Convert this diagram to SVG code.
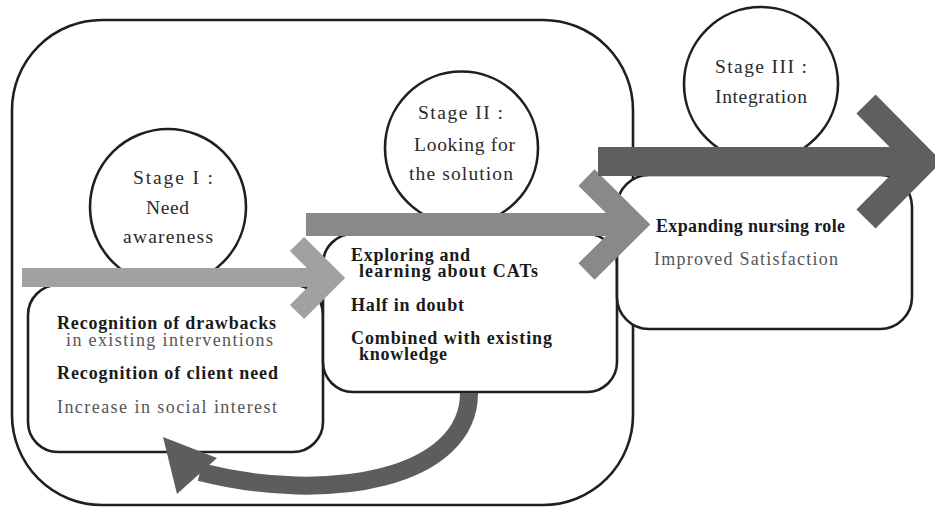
<svg xmlns="http://www.w3.org/2000/svg" width="935" height="507" viewBox="0 0 935 507">
<defs>
<style>
.frame{fill:#fff;stroke:#1f1f1f;stroke-width:2.6}
.txt{font-family:"Liberation Serif","DejaVu Serif",serif;}
.ct{font-size:19.5px;fill:#2a2a2a;}
.bt{font-size:18px;fill:#1a1a1a;font-weight:bold;}
.gt{font-size:18px;fill:#555;}
</style>
</defs>
<rect width="935" height="507" fill="#fff"/>
<g id="outer-frame">
<rect class="frame" x="12" y="20" width="621" height="485" rx="90" ry="90"/>
</g>
<g id="stage1-box">
<rect class="frame" x="28" y="285" width="295" height="167" rx="30" ry="30"/>
<g class="txt">
<text class="bt" x="57" y="329" textLength="219" lengthAdjust="spacing">Recognition of drawbacks</text>
<text class="gt" x="66" y="346" textLength="207" lengthAdjust="spacing">in existing interventions</text>
<text class="bt" x="57" y="379" textLength="221" lengthAdjust="spacing">Recognition of client need</text>
<text class="gt" x="57" y="413" textLength="220" lengthAdjust="spacing">Increase in social interest</text>
</g>
</g>
<g id="stage2-box">
<rect class="frame" x="323" y="234" width="294" height="158" rx="30" ry="30"/>
<g class="txt">
<text class="bt" x="351" y="261" textLength="119" lengthAdjust="spacing">Exploring and</text>
<text class="bt" x="359" y="277" textLength="179" lengthAdjust="spacing">learning about CATs</text>
<text class="bt" x="351" y="311" textLength="113" lengthAdjust="spacing">Half in doubt</text>
<text class="bt" x="351" y="344" textLength="201" lengthAdjust="spacing">Combined with existing</text>
<text class="bt" x="359" y="360" textLength="88" lengthAdjust="spacing">knowledge</text>
</g>
</g>
<g id="stage3-box">
<rect class="frame" x="617" y="175" width="295" height="154" rx="32" ry="32"/>
<g class="txt">
<text class="bt" x="656" y="232" textLength="189" lengthAdjust="spacing">Expanding nursing role</text>
<text class="gt" x="654" y="265" textLength="184" lengthAdjust="spacing">Improved Satisfaction</text>
</g>
</g>
<g id="stage1-circle">
<circle class="frame" cx="168" cy="207" r="78"/>
<g class="txt ct">
<text x="133" y="184" textLength="80" lengthAdjust="spacing">Stage I :</text>
<text x="146" y="214" textLength="43" lengthAdjust="spacing">Need</text>
<text x="123" y="243" textLength="90" lengthAdjust="spacing">awareness</text>
</g>
</g>
<g id="stage2-circle">
<circle class="frame" cx="461.5" cy="148" r="76.5"/>
<g class="txt ct">
<text x="418" y="119" textLength="85" lengthAdjust="spacing">Stage II :</text>
<text x="414" y="151" textLength="101" lengthAdjust="spacing">Looking for</text>
<text x="409" y="180" textLength="104" lengthAdjust="spacing">the solution</text>
</g>
</g>
<g id="stage3-circle">
<circle class="frame" cx="761" cy="84" r="77"/>
<g class="txt ct">
<text x="715" y="73" textLength="92" lengthAdjust="spacing">Stage III :</text>
<text x="715" y="103" textLength="92" lengthAdjust="spacing">Integration</text>
</g>
</g>
<g id="connectors">
<g id="arrow-stage1" fill="none" stroke="#a0a1a3">
<line x1="22" y1="277.5" x2="332" y2="277.5" stroke-width="19"/>
<polyline points="297,244 331,278 297,312" stroke-width="20" stroke-linejoin="miter" stroke-miterlimit="4"/>
</g>
<g id="arrow-stage2" fill="none" stroke="#88898b">
<line x1="306" y1="224.5" x2="634" y2="224.5" stroke-width="23"/>
<polyline points="586.5,177.5 634,224.5 586.5,271.5" stroke-width="23" stroke-linejoin="miter" stroke-miterlimit="4"/>
</g>
<g id="arrow-stage3" fill="none" stroke="#5e5f61">
<line x1="598" y1="161.5" x2="923" y2="161.5" stroke-width="29"/>
<polyline points="866,104 923,161.5 866,219" stroke-width="27" stroke-linejoin="miter" stroke-miterlimit="4"/>
</g>
<g id="arrow-loop">
<path d="M469,393 C469,478 330,505 200,472" fill="none" stroke="#5c5d5f" stroke-width="18"/>
<polygon points="163,437 217,458 177,494" fill="#5c5d5f"/>
</g>
</g>
</svg>
